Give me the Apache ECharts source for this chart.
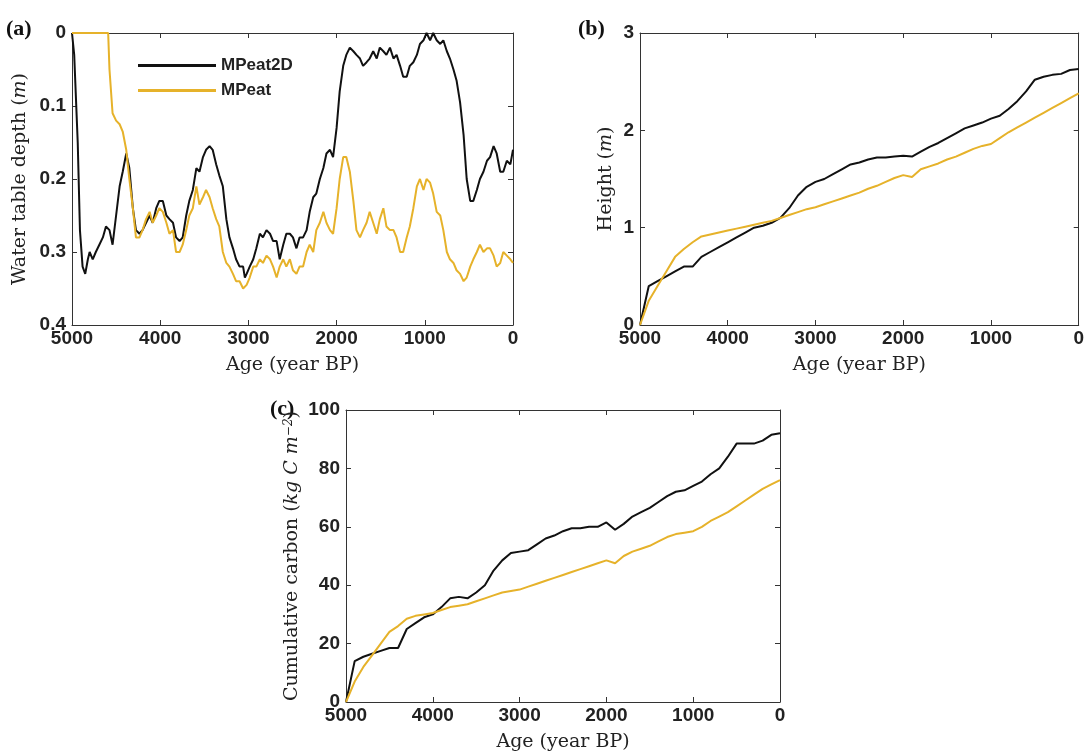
<!DOCTYPE html>
<html><head><meta charset="utf-8">
<script src="https://cdn.jsdelivr.net/npm/echarts@6/dist/echarts.min.js"></script>
<style>html,body{margin:0;padding:0;background:#fff}#c{width:1087px;height:753px}</style>
</head><body><div id="c"></div>
<script>
// Panel (a): water table depth
const wtAge2D = [5000,4975,4935,4910,4880,4850,4820,4800,4765,4730,4690,4650,4615,4575,4540,4500,4460,4425,4385,4350,4310,4275,4235,4200,4160,4120,4085,4045,4010,3970,3930,3895,3855,3820,3780,3745,3705,3670,3630,3590,3555,3515,3480,3440,3405,3365,3330,3290,3250,3215,3175,3140,3100,3060,3040,3020,2985,2945,2910,2870,2835,2795,2755,2720,2680,2645,2605,2570,2530,2495,2455,2420,2380,2340,2305,2265,2230,2190,2150,2115,2075,2040,2000,1965,1925,1890,1850,1810,1775,1735,1700,1660,1625,1585,1545,1510,1470,1435,1395,1355,1320,1280,1245,1205,1170,1130,1090,1055,1015,980,940,905,865,825,790,750,715,675,640,600,560,525,485,450,410,375,335,295,260,220,185,145,110,70,30,0];
const wtDepth2D = [0,0.03,0.15,0.27,0.32,0.33,0.31,0.30,0.31,0.30,0.29,0.28,0.265,0.27,0.29,0.25,0.21,0.19,0.165,0.185,0.24,0.27,0.275,0.27,0.26,0.25,0.26,0.24,0.23,0.23,0.25,0.255,0.26,0.28,0.285,0.28,0.25,0.23,0.215,0.185,0.19,0.17,0.16,0.155,0.16,0.18,0.195,0.21,0.255,0.28,0.295,0.31,0.32,0.32,0.335,0.33,0.32,0.31,0.295,0.275,0.28,0.27,0.275,0.285,0.285,0.31,0.29,0.275,0.275,0.28,0.295,0.28,0.28,0.27,0.245,0.225,0.22,0.2,0.185,0.165,0.16,0.17,0.13,0.08,0.045,0.03,0.02,0.025,0.03,0.035,0.045,0.04,0.035,0.025,0.035,0.02,0.025,0.03,0.02,0.035,0.03,0.045,0.06,0.06,0.045,0.04,0.03,0.015,0.01,0.0,0.01,0.0,0.01,0.015,0.01,0.025,0.035,0.05,0.065,0.095,0.14,0.2,0.23,0.23,0.215,0.2,0.19,0.175,0.17,0.155,0.165,0.19,0.19,0.175,0.18,0.16];
const wtAge1D = [5000,4590,4575,4540,4500,4460,4425,4385,4350,4310,4275,4235,4200,4160,4120,4085,4045,4010,3970,3930,3895,3855,3820,3780,3745,3705,3670,3630,3590,3555,3515,3480,3440,3405,3365,3330,3290,3250,3215,3175,3140,3100,3060,3020,2985,2945,2910,2870,2835,2795,2755,2720,2680,2645,2605,2570,2530,2495,2455,2420,2380,2340,2305,2265,2230,2190,2150,2115,2075,2040,2000,1965,1925,1890,1850,1810,1775,1735,1700,1660,1625,1585,1545,1510,1470,1435,1395,1355,1320,1280,1245,1205,1170,1130,1090,1055,1015,980,940,905,865,825,790,750,715,675,640,600,560,525,485,450,410,375,335,295,260,220,185,145,110,70,30,0];
const wtDepth1D = [0,0,0.05,0.11,0.12,0.125,0.135,0.16,0.2,0.24,0.28,0.28,0.27,0.255,0.245,0.26,0.25,0.24,0.245,0.26,0.275,0.27,0.3,0.3,0.29,0.27,0.25,0.24,0.21,0.235,0.225,0.215,0.225,0.24,0.255,0.265,0.3,0.315,0.32,0.33,0.34,0.34,0.35,0.345,0.335,0.32,0.32,0.31,0.315,0.305,0.31,0.32,0.335,0.32,0.31,0.32,0.31,0.325,0.33,0.32,0.32,0.3,0.29,0.3,0.27,0.26,0.245,0.26,0.27,0.275,0.24,0.2,0.17,0.17,0.19,0.23,0.27,0.28,0.27,0.26,0.245,0.26,0.275,0.255,0.24,0.265,0.27,0.27,0.28,0.3,0.3,0.28,0.265,0.24,0.21,0.2,0.215,0.2,0.205,0.22,0.245,0.25,0.27,0.3,0.31,0.315,0.325,0.33,0.34,0.335,0.32,0.31,0.3,0.29,0.3,0.295,0.295,0.305,0.32,0.315,0.3,0.305,0.31,0.315];
// Panels (b),(c): common age grid
const ages = [5000,4900,4800,4700,4600,4500,4400,4300,4200,4100,4000,3900,3800,3700,3600,3500,3400,3300,3200,3100,3000,2900,2800,2700,2600,2500,2400,2300,2200,2100,2000,1900,1800,1700,1600,1500,1400,1300,1200,1100,1000,900,800,700,600,500,400,300,200,100,0];
const height2D = [0,0.4,0.45,0.5,0.55,0.6,0.6,0.7,0.75,0.8,0.85,0.9,0.95,1.0,1.02,1.05,1.1,1.2,1.33,1.42,1.47,1.5,1.55,1.6,1.65,1.67,1.7,1.72,1.72,1.73,1.74,1.73,1.78,1.83,1.87,1.92,1.97,2.02,2.05,2.08,2.12,2.15,2.22,2.3,2.4,2.52,2.55,2.57,2.58,2.62,2.63];
const height1D = [0,0.25,0.4,0.55,0.7,0.78,0.85,0.91,0.93,0.95,0.97,0.99,1.01,1.03,1.05,1.07,1.1,1.13,1.16,1.19,1.21,1.24,1.27,1.3,1.33,1.36,1.4,1.43,1.47,1.51,1.54,1.52,1.6,1.63,1.66,1.7,1.73,1.77,1.81,1.84,1.86,1.92,1.98,2.03,2.08,2.13,2.18,2.23,2.28,2.33,2.38];
const carbon2D = [0,14,15.5,16.5,17.5,18.5,18.5,25,27,29,30,32.5,35.5,36,35.5,37.5,40,45,48.5,51,51.5,52,54,56,57,58.5,59.5,59.5,60,60,61.5,59,61,63.5,65,66.5,68.5,70.5,72,72.5,74,75.5,78,80,84,88.5,88.5,88.5,89.5,91.5,92];
const carbon1D = [0,7,12,16,20,24,26,28.5,29.5,30,30.5,31.5,32.5,33,33.5,34.5,35.5,36.5,37.5,38,38.5,39.5,40.5,41.5,42.5,43.5,44.5,45.5,46.5,47.5,48.5,47.5,50,51.5,52.5,53.5,55,56.5,57.5,58,58.5,60,62,63.5,65,67,69,71,73,74.5,76];

const BLACK = '#111111', GOLD = '#E6B22A';
const zip = (a,b)=>a.map((x,i)=>[x,b[i]]);
const tickFont = {fontFamily:'Liberation Sans',fontWeight:'bold',fontSize:19,color:'#222'};
const SERIF = 'DejaVu Serif';
const nameFont = {fontFamily:SERIF,fontSize:19,color:'#222',rich:{i:{fontFamily:SERIF,fontStyle:'italic',fontSize:19,color:'#222'},s:{fontFamily:SERIF,fontStyle:'italic',fontSize:12,color:'#222',verticalAlign:'top'}}};
const grids = [
 {left:72,top:33,width:441,height:292},
 {left:640,top:33,width:442,height:292},
 {left:346,top:410,width:434,height:292}
];
const line = {show:true,onZero:false,lineStyle:{color:'#333',width:1}};
const tick = {show:true,inside:true,length:5,lineStyle:{color:'#333'}};
function xAx(i,pos){const main = pos==='bottom';return {gridIndex:i,position:pos,type:'value',inverse:true,min:0,max:5000,interval:1000,
 name:main?'Age (year BP)':'',nameLocation:'middle',nameGap:31,nameTextStyle:nameFont,
 axisLine:line,axisTick:tick,
 axisLabel:Object.assign({show:main,margin:4,formatter:v=>String(v)},tickFont),splitLine:{show:false}};}
function yAx(i,pos,extra){const main = pos==='left';const o = {gridIndex:i,position:pos,type:'value',axisLine:line,axisTick:tick,
 axisLabel:Object.assign({show:main,margin:6},tickFont),splitLine:{show:false},nameLocation:'middle',nameRotate:90,nameTextStyle:nameFont};
 Object.assign(o,extra); if(!main) o.name=''; return o;}
const yA = {inverse:true,min:0,max:0.4,interval:0.1,name:'Water table depth ({i|m})',nameGap:42};
const yB = {min:0,max:3,interval:1,name:'Height ({i|m})',nameGap:24};
const yC = {min:0,max:100,interval:20,name:'Cumulative carbon ({i|kg C m}{s|−2})',nameGap:44};
const yAxes = [yAx(0,'left',yA),yAx(1,'left',yB),yAx(2,'left',yC),yAx(0,'right',yA),yAx(1,'right',yB),yAx(2,'right',yC)];
yAxes[0].axisLabel.formatter = v=>String(+v.toFixed(1));
const option = {
 animation:false,
 grid:grids,
 legend:{data:['MPeat2D','MPeat'],orient:'vertical',left:133,top:52,itemWidth:78,itemHeight:3,itemGap:8,icon:'rect',
  textStyle:{fontFamily:'Liberation Sans',fontWeight:'bold',fontSize:17,color:'#222'}},
 xAxis:[xAx(0,'bottom'),xAx(1,'bottom'),xAx(2,'bottom'),xAx(0,'top'),xAx(1,'top'),xAx(2,'top')],
 yAxis:yAxes,
 graphic:[
  {type:'text',left:6,top:18,style:{text:'(a)',font:'bold 22px "Liberation Serif"',fill:'#111'}},
  {type:'text',left:578,top:18,style:{text:'(b)',font:'bold 22px "Liberation Serif"',fill:'#111'}},
  {type:'text',left:270,top:398,style:{text:'(c)',font:'bold 22px "Liberation Serif"',fill:'#111'}}
 ],
 series:[
  {name:'MPeat2D',type:'line',xAxisIndex:0,yAxisIndex:0,data:zip(wtAge2D,wtDepth2D),symbol:'none',lineStyle:{color:BLACK,width:2},itemStyle:{color:BLACK},z:3},
  {name:'MPeat',type:'line',xAxisIndex:0,yAxisIndex:0,data:zip(wtAge1D,wtDepth1D),symbol:'none',lineStyle:{color:GOLD,width:2},itemStyle:{color:GOLD},z:4},
  {name:'MPeat2D',type:'line',xAxisIndex:1,yAxisIndex:1,data:zip(ages,height2D),symbol:'none',lineStyle:{color:BLACK,width:2},itemStyle:{color:BLACK}},
  {name:'MPeat',type:'line',xAxisIndex:1,yAxisIndex:1,data:zip(ages,height1D),symbol:'none',lineStyle:{color:GOLD,width:2},itemStyle:{color:GOLD}},
  {name:'MPeat2D',type:'line',xAxisIndex:2,yAxisIndex:2,data:zip(ages,carbon2D),symbol:'none',lineStyle:{color:BLACK,width:2},itemStyle:{color:BLACK}},
  {name:'MPeat',type:'line',xAxisIndex:2,yAxisIndex:2,data:zip(ages,carbon1D),symbol:'none',lineStyle:{color:GOLD,width:2},itemStyle:{color:GOLD}}
 ]
};
echarts.init(document.getElementById('c'),null,{renderer:'canvas'}).setOption(option);
</script></body></html>
